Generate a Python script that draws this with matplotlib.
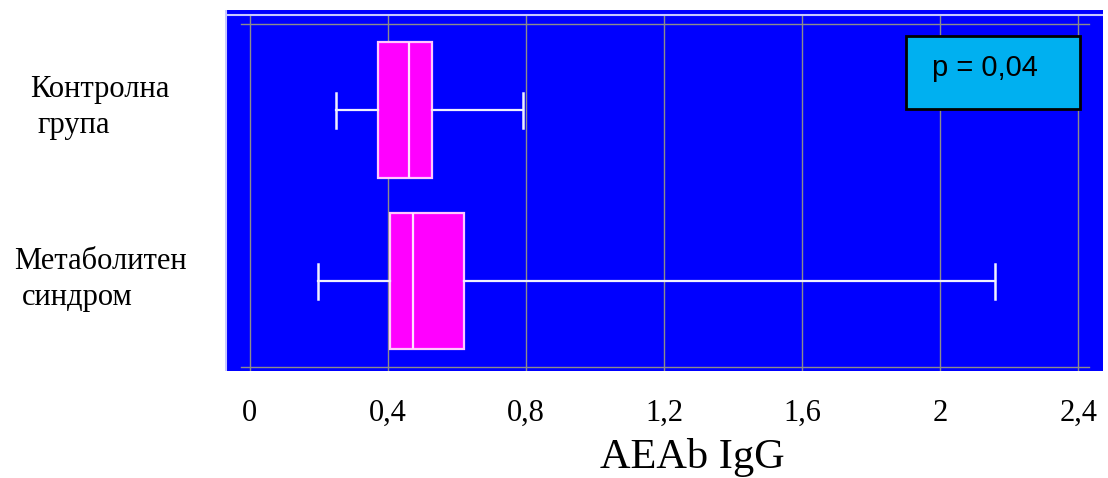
import matplotlib
matplotlib.use("Agg")
import matplotlib.pyplot as plt
from matplotlib.patches import Rectangle

# ---- data ----
categories = ["Контролна\nгрупа", "Метаболитен\nсиндром"]
whisker_low = [0.249, 0.197]
q1 = [0.371, 0.406]
median = [0.461, 0.472]
q3 = [0.528, 0.620]
whisker_high = [0.791, 2.159]
x_ticks = [0, 0.4, 0.8, 1.2, 1.6, 2.0, 2.4]
x_tick_labels = ["0", "0,4", "0,8", "1,2", "1,6", "2", "2,4"]
x_label = "AEAb IgG"
p_text = "p = 0,04"

W, H = 1108, 478
fig = plt.figure(figsize=(W / 100, H / 100), dpi=100)
ax = fig.add_axes([225 / W, 1 - 371 / H, 878 / W, 361 / H])
ax.set_facecolor("#0000FF")
for s in ax.spines.values():
    s.set_visible(False)

# y positions: first category on top
ypos = [1, 0]
ax.set_xlim(-0.072, 2.472)
ax.set_ylim(-0.526, 1.585)

# grid lines (vertical)
for t in x_ticks:
    ax.axvline(t, ymin=0, ymax=(356 / 361), color="#8C8C8C", lw=1, zorder=1)
# horizontal frame lines
for yy in (1.503, -0.503):
    ax.plot([-0.026, 2.43], [yy, yy], color="#8C8C8C", lw=1, zorder=1)
# light border lines at top and left
ax.axhline(1.585 - 5 / 171, color="#C8C8FF", lw=1.5, zorder=1)
ax.axvline(-0.072 + 1 / 345, color="#C8C8FF", lw=1.5, zorder=1)

stats = []
for i, lab in enumerate(categories):
    stats.append(dict(label=lab, whislo=whisker_low[i], q1=q1[i], med=median[i],
                      q3=q3[i], whishi=whisker_high[i], fliers=[]))
ax.bxp(stats, positions=ypos, widths=0.8, capwidths=0.205, orientation="horizontal",
       showfliers=False, patch_artist=True,
       boxprops=dict(facecolor="#FF00FF", edgecolor="#FFC8FF", linewidth=1.6),
       medianprops=dict(color="#FFE0FF", linewidth=1.6),
       whiskerprops=dict(color="#F0F0FF", linewidth=1.6),
       capprops=dict(color="#F0F0FF", linewidth=1.8), zorder=3)

ax.set_yticks([])
ax.set_xticks(x_ticks)
ax.set_xticklabels(x_tick_labels, family="Liberation Serif", fontsize=22)
ax.tick_params(axis="x", length=0, pad=20)

# category labels (each line placed individually)
label_lines = [[("Контролна", 30, 97), ("група", 37, 133)],
               [("Метаболитен", 14, 269), ("синдром", 22, 305)]]
for i, lab in enumerate(categories):
    for (txt, px, py) in label_lines[i]:
        fig.text(px / W, 1 - py / H, txt, family="Liberation Serif", fontsize=22,
                 ha="left", va="baseline")

fig.text(692 / W, 1 - 468 / H, x_label, family="Liberation Serif", fontsize=30.5,
         ha="center", va="baseline")

# p-value box
ax.add_patch(Rectangle((1.901, 1.006), 0.505, 0.427, facecolor="#00B0F0",
                       edgecolor="black", lw=2, zorder=5))
ax.text(2.130, 1.246, p_text, family="Liberation Sans", fontsize=21,
        ha="center", va="center", zorder=6, color="black")

fig.savefig("out.png", dpi=100)
